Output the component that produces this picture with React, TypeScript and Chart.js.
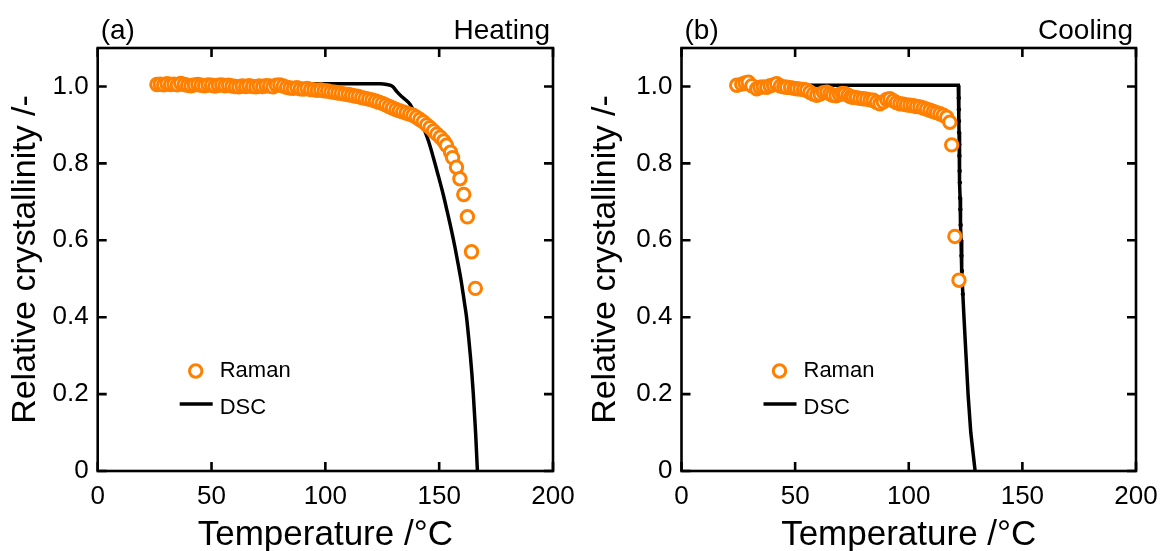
import React, { useEffect, useRef } from "react";
import { Chart, registerables } from "chart.js";

Chart.register(...registerables);

// ---------- data ----------
const heatRamanT = [26, 27.5, 29, 30.5, 32, 33.5, 35, 36.5, 38, 39.5, 41, 42.5, 44, 45.5, 47, 48.5, 50, 51.5, 53, 54.5, 56, 57.5, 59, 60.5, 62, 63.5, 65, 66.5, 68, 69.5, 71, 72.5, 74, 75.5, 77, 78.5, 80, 81.5, 83, 84.5, 86, 87.5, 89, 90.5, 92, 93.5, 95, 96.5, 98, 99.5, 101, 102.5, 104, 105.5, 107, 108.5, 110, 111.5, 113, 114.5, 116, 117.5, 119, 120.5, 122, 123.5, 125, 126.5, 128, 129.5, 131, 132.5, 134, 135.5, 137, 138.5, 140, 141.5, 143, 144.5, 146, 147.5, 149, 150.5, 152, 153.2, 155, 155.9, 157.6, 159.1, 160.8, 162.4, 164.2, 165.9];
const heatRamanY = [1.005, 1.006, 1.004, 1.007, 1.005, 1.006, 1.004, 1.008, 1.005, 1.003, 1.002, 1.004, 1.005, 1.003, 1.002, 1.004, 1.003, 1.001, 1.003, 1.004, 1.002, 1.003, 1.001, 1.0, 0.999, 1.001, 1.0, 1.002, 1.0, 0.999, 1.001, 1.0, 1.002, 1.001, 0.999, 1.003, 1.004, 1.001, 0.998, 0.996, 0.995, 0.997, 0.994, 0.993, 0.995, 0.992, 0.991, 0.99, 0.991, 0.989, 0.988, 0.986, 0.985, 0.983, 0.982, 0.98, 0.979, 0.977, 0.975, 0.974, 0.971, 0.969, 0.967, 0.965, 0.962, 0.959, 0.956, 0.952, 0.948, 0.944, 0.94, 0.937, 0.934, 0.931, 0.928, 0.925, 0.92, 0.914, 0.908, 0.9, 0.893, 0.884, 0.876, 0.868, 0.858, 0.847, 0.829, 0.815, 0.79, 0.76, 0.719, 0.661, 0.57, 0.475];

const heatDscT = [24, 40, 60, 80, 100, 115, 124, 127, 129.5, 131.5, 133.5, 135.5, 137, 140, 143, 145.3, 147.4, 149.6, 151.7, 153.6, 155.4, 157, 158.3, 159.5, 160.5, 161.3, 162.0, 162.9, 163.7, 164.4, 165.0, 165.5, 166.0, 166.4, 166.8];
const heatDscY = [1.007, 1.007, 1.007, 1.007, 1.007, 1.007, 1.007, 1.005, 1.0, 0.986, 0.974, 0.964, 0.955, 0.925, 0.894, 0.858, 0.816, 0.768, 0.721, 0.673, 0.626, 0.58, 0.539, 0.5, 0.462, 0.43, 0.401, 0.35, 0.3, 0.25, 0.2, 0.15, 0.1, 0.05, 0.0];

const coolRamanT = [24.3, 26.5, 28, 29.4, 31, 33.1, 34.5, 36, 37.5, 39, 40.5, 41.9, 43.5, 45, 46.3, 48, 49.5, 50.7, 52.2, 53.7, 55.1, 56.5, 58, 59.5, 61, 62.5, 63.9, 65.3, 66.5, 68, 69.5, 70.8, 71.9, 73.3, 74.5, 75.6, 77, 78.5, 80, 81.5, 83, 84.4, 85.8, 87.3, 88.8, 90.3, 91.7, 93.2, 94.6, 96.1, 97.6, 99, 100.5, 102, 103.4, 104.9, 106.4, 107.8, 109.3, 110.8, 112.2, 113.7, 115.2, 116.7, 118.1, 118.9, 120.3, 122.1];
const coolRamanY = [1.003, 1.006, 1.009, 1.011, 1.002, 0.994, 0.998, 0.999, 0.998, 1.002, 1.004, 1.007, 1.001, 0.999, 0.998, 0.997, 0.995, 0.994, 0.993, 0.992, 0.99, 0.985, 0.98, 0.977, 0.98, 0.984, 0.985, 0.981, 0.977, 0.976, 0.979, 0.982, 0.981, 0.977, 0.973, 0.972, 0.971, 0.969, 0.968, 0.967, 0.965, 0.964, 0.959, 0.955, 0.96, 0.966, 0.968, 0.963, 0.958, 0.955, 0.954, 0.952, 0.951, 0.95, 0.948, 0.947, 0.944, 0.941, 0.938, 0.935, 0.932, 0.929, 0.925, 0.92, 0.907, 0.848, 0.61, 0.496];

const coolDscT = [30, 60, 90, 110, 121.8, 122.0, 122.05, 122.1, 122.15, 122.2, 122.3, 122.4, 122.5, 122.6, 122.7, 122.85, 123.0, 123.2, 123.4, 123.8, 124.3, 125.2, 126.1, 127.3, 129.2];
const coolDscY = [1.003, 1.003, 1.003, 1.003, 1.003, 0.97, 0.94, 0.91, 0.88, 0.85, 0.82, 0.78, 0.75, 0.71, 0.68, 0.64, 0.6, 0.56, 0.52, 0.46, 0.4, 0.3, 0.2, 0.1, 0.0];

const xTicks = [0, 50, 100, 150, 200];
const yTicks = [0, 0.2, 0.4, 0.6, 0.8, 1.0];
const xMin = 0, xMax = 200, yMin = 0, yMax = 1.1;

const ORANGE = "#FF8000";
const FONT = '"Liberation Sans", Arial, Helvetica, sans-serif';

const pts = (xs: number[], ys: number[]) => xs.map((x, i) => ({ x, y: ys[i] }));

const framePlugin = {
  id: "frame",
  afterDraw(chart: any, _args: any, opts: any) {
    const { ctx, chartArea } = chart;
    const { left, right, top, bottom } = chartArea;
    const xs = chart.scales.x;
    const ys = chart.scales.y;
    ctx.save();
    ctx.strokeStyle = "#000";
    ctx.lineWidth = 2.6;
    ctx.lineCap = "butt";
    ctx.strokeRect(left, top, right - left, bottom - top);
    ctx.beginPath();
    const tl = 9;
    for (const t of xs.ticks) {
      const px = xs.getPixelForValue(t.value);
      ctx.moveTo(px, bottom);
      ctx.lineTo(px, bottom - tl);
      ctx.moveTo(px, top);
      ctx.lineTo(px, top + tl);
    }
    for (const t of ys.ticks) {
      const py = ys.getPixelForValue(t.value);
      ctx.moveTo(left, py);
      ctx.lineTo(left + tl, py);
      ctx.moveTo(right, py);
      ctx.lineTo(right - tl, py);
    }
    ctx.stroke();

    // panel tag and mode
    ctx.fillStyle = "#000";
    ctx.font = `28px ${FONT}`;
    ctx.textBaseline = "alphabetic";
    ctx.textAlign = "left";
    ctx.fillText(opts.tag, left + 3, 39);
    ctx.textAlign = "right";
    ctx.fillText(opts.mode, right - 3, 39);

    // legend
    const ds = chart.data.datasets;
    ctx.font = `22px ${FONT}`;
    ctx.textAlign = "left";
    ctx.textBaseline = "middle";
    ctx.beginPath();
    ctx.arc(left + 98, 371, 6.2, 0, Math.PI * 2);
    ctx.fillStyle = "#fff";
    ctx.fill();
    ctx.strokeStyle = ORANGE;
    ctx.lineWidth = 3;
    ctx.stroke();
    ctx.fillStyle = "#000";
    ctx.fillText(ds[0].label, left + 122, 371);
    ctx.beginPath();
    ctx.moveTo(left + 82, 404);
    ctx.lineTo(left + 115, 404);
    ctx.strokeStyle = "#000";
    ctx.lineWidth = 3.5;
    ctx.stroke();
    ctx.fillText(ds[1].label, left + 122, 408);
    ctx.restore();
  },
};

function makeConfig(raman: any[], dsc: any[], yWidth: number, rightPad: number, tag: string, mode: string, dotted: boolean): any {
  return {
    type: "scatter",
    data: {
      datasets: [
        {
          label: "Raman",
          data: raman,
          showLine: false,
          pointStyle: "circle",
          pointRadius: 6.2,
          pointBorderWidth: 3,
          pointBorderColor: ORANGE,
          pointBackgroundColor: "#fff",
          pointHoverRadius: 6.2,
        },
        {
          label: "DSC",
          data: dsc,
          showLine: true,
          borderColor: "#000",
          borderWidth: 3.5,
          cubicInterpolationMode: dotted ? "default" : "monotone",
          tension: dotted ? 0 : 0.4,
          pointRadius: dotted
            ? (c: any) => {
                const p = c.raw;
                return p && p.x > 121.9 && p.y > 0.45 ? 2.2 : 0;
              }
            : 0,
          pointBackgroundColor: "#000",
          pointBorderColor: "#000",
          pointBorderWidth: 0,
          fill: false,
        },
      ],
    },
    options: {
      responsive: false,
      animation: false,
      events: [],
      layout: { padding: { top: 48, right: rightPad, left: 0, bottom: 0 } },
      plugins: {
        legend: { display: false },
        tooltip: { enabled: false },
        frame: { tag, mode },
      },
      scales: {
        x: {
          type: "linear",
          min: xMin,
          max: xMax,
          afterBuildTicks: (s: any) => {
            s.ticks = xTicks.map((v) => ({ value: v }));
          },
          afterFit: (s: any) => {
            s.height = 80;
            s.paddingLeft = 0;
            s.paddingRight = 0;
          },
          grid: { display: false, drawTicks: false },
          border: { display: false },
          ticks: {
            color: "#000",
            font: { family: FONT, size: 26 },
            padding: 10,
            maxRotation: 0,
            autoSkip: false,
            callback: (v: any) => String(v),
          },
          title: {
            display: true,
            text: "Temperature /°C",
            color: "#000",
            font: { family: FONT, size: 35, lineHeight: 1 },
            padding: { top: 0, bottom: -2 },
          },
        },
        y: {
          type: "linear",
          min: yMin,
          max: yMax,
          afterBuildTicks: (s: any) => {
            s.ticks = yTicks.map((v) => ({ value: v }));
          },
          afterFit: (s: any) => {
            s.width = yWidth;
            s.paddingTop = 0;
            s.paddingBottom = 0;
          },
          grid: { display: false, drawTicks: false },
          border: { display: false },
          ticks: {
            color: "#000",
            font: { family: FONT, size: 26 },
            padding: 9,
            autoSkip: false,
            callback: (v: any) => (v === 0 ? "0" : Number(v).toFixed(1)),
          },
          title: {
            display: true,
            text: "Relative crystallinity /-",
            color: "#000",
            font: { family: FONT, size: 34, lineHeight: 1 },
            padding: { top: 9, bottom: 0 },
          },
        },
      },
    },
    plugins: [framePlugin],
  };
}

function Panel(props: { cfg: any }) {
  const ref = useRef<HTMLCanvasElement | null>(null);
  useEffect(() => {
    if (!ref.current) return;
    const chart = new Chart(ref.current, props.cfg);
    return () => chart.destroy();
  }, []);
  return <canvas ref={ref} width={580} height={551} style={{ display: "block", width: 580, height: 551 }} />;
}

export default function App() {
  const cfgA = makeConfig(pts(heatRamanT, heatRamanY), pts(heatDscT, heatDscY), 97.7, 27, "(a)", "Heating", false);
  const cfgB = makeConfig(pts(coolRamanT, coolRamanY), pts(coolDscT, coolDscY), 101.5, 24, "(b)", "Cooling", true);
  return (
    <div style={{ position: "fixed", left: 0, top: 0, width: 1160, height: 551, background: "#fff", display: "flex" }}>
      <Panel cfg={cfgA} />
      <Panel cfg={cfgB} />
    </div>
  );
}
